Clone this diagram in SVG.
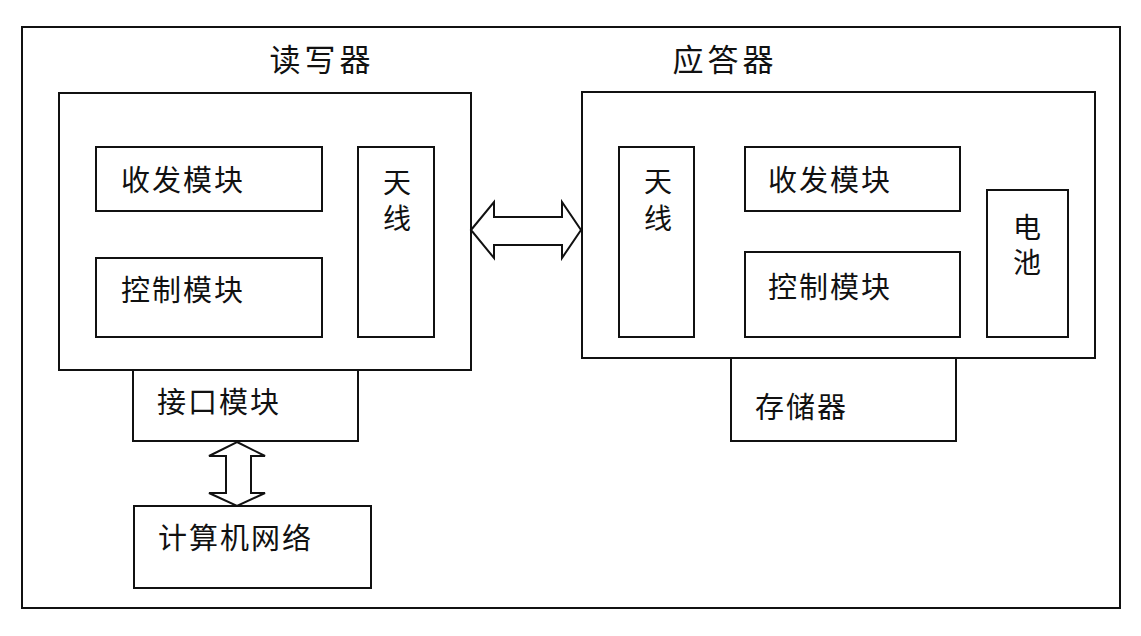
<svg xmlns="http://www.w3.org/2000/svg" width="1141" height="636" viewBox="0 0 1141 636">
<style>
.box{fill:#fff;stroke:#111;stroke-width:2}
.frame{fill:none;stroke:#111;stroke-width:2}
.arrow{fill:#fff;stroke:#111;stroke-width:2;stroke-linejoin:miter}
text{font-family:"Noto Sans CJK SC","Noto Sans CJK JP",sans-serif;fill:#111}
.lbl{font-size:29px;letter-spacing:2px}
.ttl{font-size:31px;letter-spacing:4px;text-anchor:middle}
.v{font-size:28px;writing-mode:vertical-rl;text-orientation:upright}
</style>
<rect width="1141" height="636" fill="#fff"/>
<rect id="outer" class="frame" x="22" y="27" width="1098" height="581"/>
<g id="reader">
  <rect class="box" x="59" y="93" width="412" height="277"/>
  <text class="ttl" x="322" y="71">读写器</text>
</g>
<g id="reader-transceiver">
  <rect class="box" x="96" y="147" width="226" height="64"/>
  <text class="lbl" x="121" y="191">收发模块</text>
</g>
<g id="reader-control">
  <rect class="box" x="96" y="258" width="226" height="79"/>
  <text class="lbl" x="121" y="301">控制模块</text>
</g>
<g id="reader-antenna">
  <rect class="box" x="358" y="147" width="76" height="190"/>
  <text class="v" x="397" y="168" letter-spacing="8">天线</text>
</g>
<g id="interface">
  <rect class="box" x="133" y="370" width="225" height="71"/>
  <text class="lbl" x="157" y="413">接口模块</text>
</g>
<g id="network">
  <rect class="box" x="134" y="506" width="237" height="82"/>
  <text class="lbl" x="158" y="549">计算机网络</text>
</g>
<g id="responder">
  <rect class="box" x="582" y="92" width="513" height="266"/>
  <text class="ttl" x="725" y="71">应答器</text>
</g>
<g id="responder-antenna">
  <rect class="box" x="619" y="147" width="75" height="190"/>
  <text class="v" x="658" y="167" letter-spacing="9">天线</text>
</g>
<g id="responder-transceiver">
  <rect class="box" x="745" y="147" width="215" height="64"/>
  <text class="lbl" x="768" y="191">收发模块</text>
</g>
<g id="responder-control">
  <rect class="box" x="745" y="252" width="215" height="85"/>
  <text class="lbl" x="768" y="298">控制模块</text>
</g>
<g id="battery">
  <rect class="box" x="987" y="190" width="81" height="147"/>
  <text class="v" x="1027" y="213" letter-spacing="7">电池</text>
</g>
<g id="memory">
  <rect class="box" x="731" y="358" width="225" height="83"/>
  <text class="lbl" x="755" y="418">存储器</text>
</g>
<g id="connectors">
  <polygon class="arrow" points="471,230 494,202 494,217 562,217 562,202 581,230 562,258 562,245 494,245 494,258"/>
  <polygon class="arrow" points="237,442 265,456 251,456 251,493 265,493 237,506 209,493 226,493 226,456 209,456"/>
</g>
</svg>
